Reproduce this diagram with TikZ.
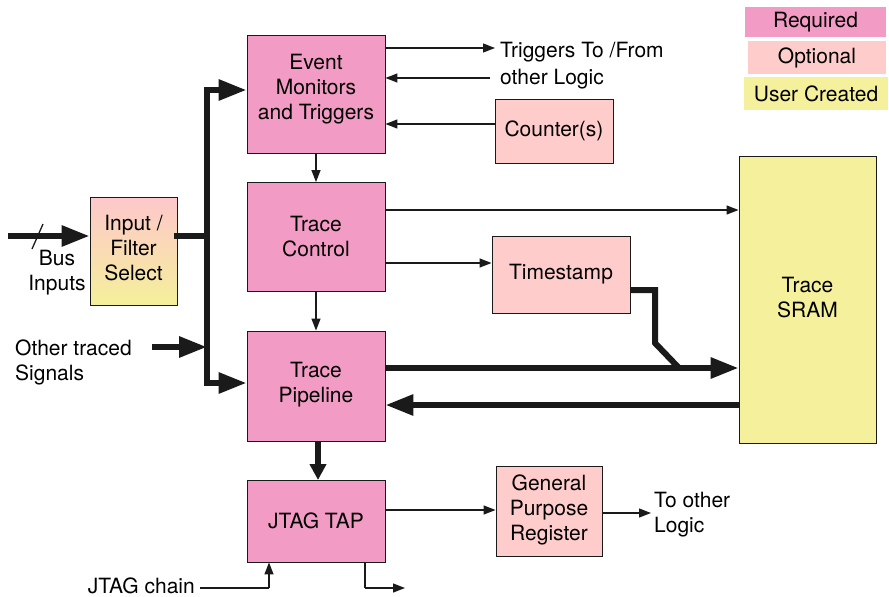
\documentclass[tikz,border=0pt]{standalone}
\usepackage{fontspec}
\setmainfont{TeX Gyre Heros}
\usetikzlibrary{arrows.meta}
\definecolor{req}{HTML}{F29BC4}
\definecolor{opt}{HTML}{FFCCCC}
\definecolor{usr}{HTML}{F5F09B}
\definecolor{ink}{HTML}{1A1A1A}
\tikzset{
  blk/.style={draw=ink,line width=0.9pt,minimum width=#1,align=center,inner sep=0pt,font=\fontsize{21}{25}\selectfont},
  reqbox/.style={fill=req},
  optbox/.style={fill=opt},
  usrbox/.style={fill=usr},
  lbl/.style={font=\fontsize{21}{25}\selectfont,inner sep=0pt},
  thin/.style={line width=1.3pt,draw=ink,-{Triangle[length=12pt,width=9pt]}},
  thinline/.style={line width=1.3pt,draw=ink},
  thick/.style={line width=6pt,draw=ink,-{Triangle[length=28pt,width=20pt]}},
  thickline/.style={line width=6pt,draw=ink},
}
\begin{document}
\begin{tikzpicture}[x=1pt,y=-1pt]
\useasboundingbox (0,0) rectangle (889,597);
% legend
\node[lbl,fill=req,minimum width=141pt,minimum height=30pt] (lreq) at (815.5,22) {Required};
\node[lbl,fill=opt,minimum width=138pt,minimum height=33pt] (lopt) at (817,57.5) {Optional};
\node[lbl,fill=usr,minimum width=144pt,minimum height=33pt] (lusr) at (816,93.5) {User Created};
% blocks
\node[blk=138pt,reqbox,minimum height=118pt] (ev) at (316,94) {};
\node[lbl,align=center] at (316,89) {Event\\Monitors\\and Triggers};
\node[blk=138pt,reqbox,minimum height=109pt] (tc) at (316,237) {Trace\\Control};
\node[blk=138pt,reqbox,minimum height=110pt] (tp) at (316,386) {};
\node[lbl,align=center] at (316,384.5) {Trace\\Pipeline};
\node[blk=138pt,reqbox,minimum height=82pt] (jt) at (316,521) {JTAG TAP};
\node[blk=87pt,top color=opt!90!req,bottom color=usr,minimum height=108pt] (inp) at (133.5,251) {};
\node[lbl,align=center] at (133.5,248) {Input /\\Filter\\Select};
\node[blk=118pt,optbox,minimum height=64pt] (cnt) at (554,131) {Counter(s)};
\node[blk=138pt,optbox,minimum height=77pt] (ts) at (561,274.5) {Timestamp};
\node[blk=106pt,optbox,minimum height=90pt] (gpr) at (549,511) {};
\node[lbl,align=center] at (549,509.5) {General\\Purpose\\Register};
\node[blk=137pt,usrbox,minimum height=287pt] (sram) at (807.5,299.5) {};
\node[lbl,align=center] at (807.5,297.5) {Trace\\SRAM};
% labels
\node[lbl,align=center,anchor=north] (bus) at (57,250) {Bus\\Inputs};
\node[lbl,align=left,anchor=north west] (oth) at (15,340) {Other traced\\Signals};
\node[lbl,align=left,anchor=north west,font=\fontsize{21}{27}\selectfont] (trg) at (500,42) {Triggers To /From\\other Logic};
\node[lbl,align=left,anchor=north west] (tol) at (654,492) {To other\\Logic};
\node[lbl,anchor=east] (jch) at (195,586) {JTAG chain};
% coordinates
\coordinate (busin) at (8,236);
\coordinate (bt) at (207,90);
\coordinate (bb) at (207,383);
\coordinate (bj) at (207,236);
\coordinate (oi) at (152,347);
% input bus
\draw[thick] (busin) -- (inp.west |- busin);
\draw[line width=1.3pt,ink] (32,249) -- (43,224);
\draw[thickline,line cap=rect] (inp.east |- bj) -- (bj);
\draw[thickline,line cap=rect] (bt) -- (bb);
\draw[thick] (bt) -- (ev.west |- bt);
\draw[thick] (bb) -- (tp.west |- bb);
\draw[thick] (oi) -- (207,347);
% vertical chain
\draw[thin] (ev.south) -- (tc.north);
\draw[thin] (tc.south) -- (tp.north);
\draw[thick,-{Triangle[length=16pt,width=16pt]}] (318,441) -- (318,480);
% event monitor side
\draw[thin] (ev.east |- 0,48) -- (495,48);
\draw[thin] (490,78) -- (ev.east |- 0,78);
\draw[thin] (cnt.west |- 0,124) -- (ev.east |- 0,124);
% trace control side
\draw[thin] (tc.east |- 0,210) -- (sram.west |- 0,210);
\draw[thin] (tc.east |- 0,263) -- (ts.west |- 0,263);
% timestamp to data path
\draw[thickline] (ts.east |- 0,290) -- (655,290) -- (655,343) -- (679,368);
% pipeline <-> SRAM
\draw[thick] (tp.east |- 0,368) -- (sram.west |- 0,368);
\draw[thick] (sram.west |- 0,405) -- (tp.east |- 0,405);
% JTAG
\draw[thin] (jt.east |- 0,510) -- (gpr.west |- 0,510);
\draw[thin] (gpr.east |- 0,513) -- (651,513);
\draw[thinline] (jch.east) ++(5,2) -- (269,588);
\draw[thin] (269,588) -- (jt.south -| 269,0);
\draw[thinline] (jt.south -| 365,0) -- (365,588);
\draw[thin] (365,588) -- (405,588);
\end{tikzpicture}
\end{document}
